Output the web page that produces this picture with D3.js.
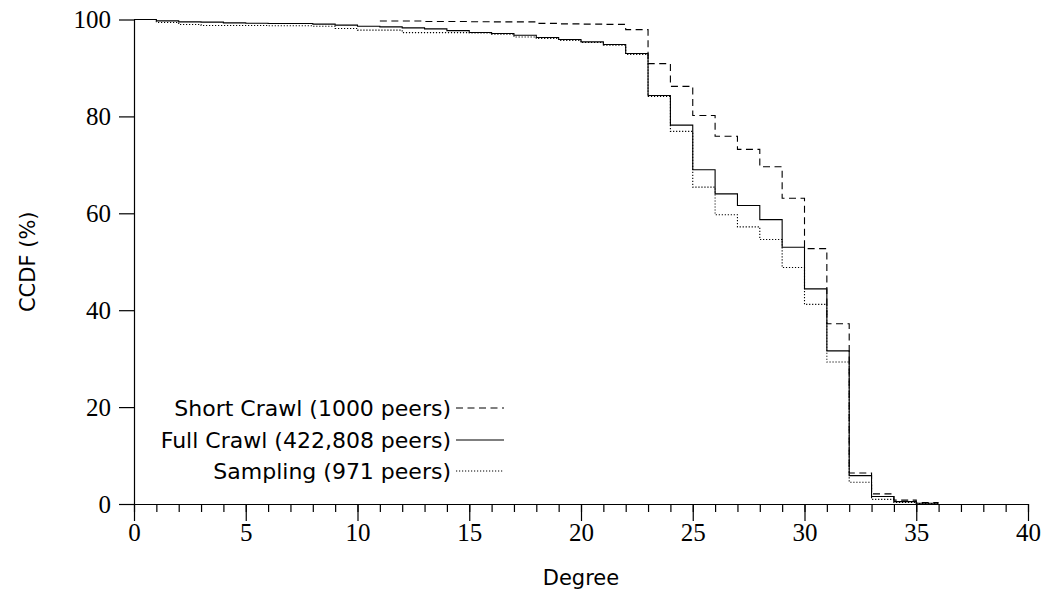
<!DOCTYPE html>
<html>
<head>
<meta charset="utf-8">
<script src="https://cdn.jsdelivr.net/npm/d3@7"></script>
<style>
  html, body { margin: 0; padding: 0; background: #fff; }
  svg { display: block; }
</style>
</head>
<body>
<svg id="chart" width="1043" height="591"></svg>
<script>
// Degree values at which each step begins (the CCDF holds until the next degree)
const fullDegrees = d3.range(0, 36);
const fullCrawl = [100, 99.72, 99.52, 99.45, 99.31, 99.24, 99.17, 99.17, 99.04, 98.83,
  98.62, 98.48, 98.28, 98.07, 97.7, 97.31, 97.1, 96.76, 96.28, 95.87,
  95.39, 94.83, 92.97, 84.3, 78.2, 69.0, 64.0, 61.6, 58.7, 53.0,
  44.4, 31.6, 5.85, 1.55, 0.5, 0.15];

const samplingDegrees = d3.range(0, 36);
const sampling = [100, 99.38, 98.97, 98.76, 98.76, 98.76, 98.7, 98.7, 98.6, 98.14,
  97.8, 97.8, 97.3, 97.3, 97.3, 97.2, 96.97, 96.4, 96.1, 95.7,
  95.25, 94.7, 92.8, 84.1, 76.9, 65.4, 59.7, 57.2, 54.6, 48.8,
  41.2, 29.3, 4.5, 0.95, 0.3, 0.1];

const shortDegrees = d3.range(11, 36);
const shortCrawl = [99.7, 99.7, 99.6, 99.6, 99.55, 99.5, 99.5, 99.2, 99.1, 99.05,
  99.0, 97.9, 90.9, 86.2, 80.2, 75.9, 73.2, 69.6, 63.1, 52.7,
  37.2, 6.4, 2.1, 0.8, 0.3];

const lastDegree = 36;

const xTicks = [0, 5, 10, 15, 20, 25, 30, 35, 40];
const xMinorTicks = d3.range(0, 41);
const yTicks = [0, 20, 40, 60, 80, 100];

const legendLabels = ["Short Crawl (1000 peers)", "Full Crawl (422,808 peers)", "Sampling (971 peers)"];

const svg = d3.select("#chart");
const plot = { left: 134, right: 1028, top: 19.5, bottom: 504 };

const x = d3.scaleLinear().domain([0, 40]).range([plot.left, plot.right]);
const y = d3.scaleLinear().domain([0, 100]).range([plot.bottom, plot.top]);

const serif = "'Liberation Serif', 'DejaVu Serif', serif";
const sans = "'DejaVu Sans', 'Noto Sans', sans-serif";

// x axis: minor ticks every degree, longer labelled ticks every 5
const xMinor = svg.append("g")
  .attr("transform", `translate(0,${plot.bottom})`)
  .call(d3.axisBottom(x).tickValues(xMinorTicks).tickSize(8).tickFormat(""));
xMinor.select(".domain").remove();

const xAxis = svg.append("g")
  .attr("transform", `translate(0,${plot.bottom})`)
  .call(d3.axisBottom(x).tickValues(xTicks).tickSize(17).tickSizeOuter(0).tickPadding(2));
xAxis.selectAll("text").attr("font-family", serif).attr("font-size", 25).attr("fill", "#000");

const yAxis = svg.append("g")
  .attr("transform", `translate(${plot.left},0)`)
  .call(d3.axisLeft(y).tickValues(yTicks).tickSize(15).tickSizeOuter(0).tickPadding(8));
yAxis.selectAll("text").attr("font-family", serif).attr("font-size", 25).attr("fill", "#000");

svg.selectAll(".domain, .tick line").attr("stroke", "#000").attr("stroke-width", 1.2);

// Step lines
const line = d3.line()
  .x(d => x(d[0]))
  .y(d => y(d[1]))
  .curve(d3.curveStepAfter);

function stepPoints(degrees, values) {
  const pts = degrees.map((d, i) => [d, values[i]]);
  pts.push([lastDegree, values[values.length - 1]]);
  return pts;
}

const series = [
  { pts: stepPoints(shortDegrees, shortCrawl), dash: "7,4.5" },
  { pts: stepPoints(fullDegrees, fullCrawl), dash: null },
  { pts: stepPoints(samplingDegrees, sampling), dash: "1.2,1.8" }
];

series.forEach(s => {
  svg.append("path")
    .attr("d", line(s.pts))
    .attr("fill", "none")
    .attr("stroke", "#000")
    .attr("stroke-width", 1.1)
    .attr("stroke-dasharray", s.dash);
});

// Legend: right-aligned labels followed by a line sample
const legendY = [408, 440, 471];
legendLabels.forEach((lab, i) => {
  svg.append("text")
    .attr("x", 451)
    .attr("y", legendY[i])
    .attr("dy", "0.35em")
    .attr("text-anchor", "end")
    .attr("font-family", sans)
    .attr("font-size", 22)
    .text(lab);
  svg.append("line")
    .attr("x1", 456).attr("x2", 504)
    .attr("y1", legendY[i]).attr("y2", legendY[i])
    .attr("stroke", "#000")
    .attr("stroke-width", 1.1)
    .attr("stroke-dasharray", series[i].dash);
});

// Axis titles
svg.append("text")
  .attr("x", (plot.left + plot.right) / 2)
  .attr("y", 578)
  .attr("dy", "0.35em")
  .attr("text-anchor", "middle")
  .attr("font-family", sans)
  .attr("font-size", 21)
  .text("Degree");

svg.append("text")
  .attr("transform", `translate(28,${(plot.top + plot.bottom) / 2}) rotate(-90)`)
  .attr("dy", "0.35em")
  .attr("text-anchor", "middle")
  .attr("font-family", sans)
  .attr("font-size", 21)
  .text("CCDF (%)");
</script>
</body>
</html>
